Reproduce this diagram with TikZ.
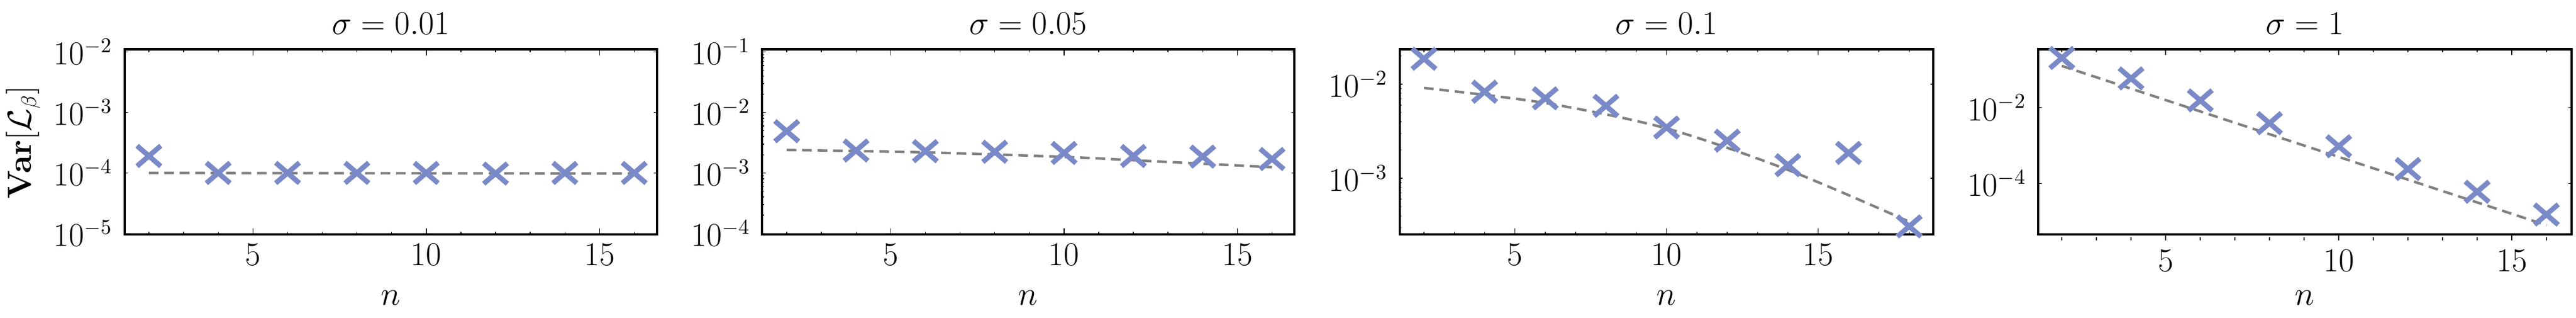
\documentclass[tikz,border=0pt]{standalone}
\usepackage{amsmath}
\usetikzlibrary{shapes.misc}
\definecolor{ptblue}{RGB}{122,138,200}
\tikzset{fr/.style  = {line width=1.3pt},
         xm/.style  = {cross out, draw=ptblue, line width=2.6pt, minimum width=3.4mm, minimum height=2.8mm, inner sep=0pt},
         fitl/.style = {gray, dashed, line width=1.3pt, dash pattern=on 5pt off 3pt},
         tl/.style  = {font=\fontsize{16}{18}\selectfont},
         ttl/.style = {font=\fontsize{19}{22}\selectfont}}
\begin{document}
\begin{tikzpicture}
  \useasboundingbox (0,0) rectangle (46.89,-5.78);
  % frames: left, right
  \foreach \l/\r/\t in {2.27/11.96/{\sigma=0.01}, 13.87/23.56/{\sigma=0.05}, 25.48/35.19/{\sigma=0.1}, 37.10/46.81/{\sigma=1}} {
    \draw[fr] (\l,-0.897) rectangle (\r,-4.261);
    \node[ttl] at ({(\l+\r)/2},-0.43) {$\t$};
    \node[tl] at ({(\l+\r)/2},-5.41) {$n$};
  }
  \node[tl, rotate=90] (ylab) at (0.42,-2.59) {$\mathbf{Var}[\mathcal{L}_\beta]$};
  % sigma = 0.01
  \begin{scope}[shift={(1.448,1.2538)}, x=0.631cm, y=1.0993cm]
    \foreach \n in {2,...,16} {\draw (\n,-5.017) -- +(0,0.055cm); \draw (\n,-1.957) -- +(0,-0.055cm);}
    \foreach \n in {5,10,15} {\draw (\n,-5.017) -- +(0,0.11cm); \draw (\n,-1.957) -- +(0,-0.11cm);
      \node[tl] at (\n,-5.017) [yshift=-0.37cm] {$\n$};}
    \foreach \e in {-2,...,-5} {\draw (1.30,\e) -- +(0.1,0); \draw (16.66,\e) -- +(-0.1,0);
      \node[tl, anchor=east] at (1.30,\e) [xshift=-1mm] {$10^{\e}$};}
    \draw[fitl] plot coordinates {(2,-4) (16,-4.01)};
    \foreach \n/\v in {2/-3.72, 4/-4.0, 6/-4.0, 8/-4.0, 10/-4.0, 12/-4.01, 14/-4.0, 16/-4.0}
      \node[xm] (a\n) at (\n,\v) {};
  \end{scope}
  % sigma = 0.05
  \begin{scope}[shift={(13.058,0.1545)}, x=0.631cm, y=1.0993cm]
    \foreach \n in {2,...,16} {\draw (\n,-4.017) -- +(0,0.055cm); \draw (\n,-0.957) -- +(0,-0.055cm);}
    \foreach \n in {5,10,15} {\draw (\n,-4.017) -- +(0,0.11cm); \draw (\n,-0.957) -- +(0,-0.11cm);
      \node[tl] at (\n,-4.017) [yshift=-0.37cm] {$\n$};}
    \foreach \e in {-1,...,-4} {\draw (1.30,\e) -- +(0.1,0); \draw (16.66,\e) -- +(-0.1,0);
      \node[tl, anchor=east] at (1.30,\e) [xshift=-1mm] {$10^{\e}$};}
    \foreach \e in {-2,...,-4} \foreach \m in {2,...,9} {
      \draw (1.30,{\e+log10(\m)}) -- +(0.05,0); \draw (16.66,{\e+log10(\m)}) -- +(-0.05,0);}
    \draw[fitl] plot[smooth] coordinates {(2,-2.62) (6,-2.66) (10,-2.735) (12,-2.79) (16,-2.905)};
    \foreach \n/\v in {2/-2.31, 4/-2.63, 6/-2.64, 8/-2.65, 10/-2.67, 12/-2.72, 14/-2.73, 16/-2.77}
      \node[xm] (b\n) at (\n,\v) {};
  \end{scope}
  % sigma = 0.1
  \begin{scope}[shift={(24.816,1.8932)}, x=0.552cm, y=1.7117cm]
    \foreach \n in {2,...,18} {\draw (\n,-3.597) -- +(0,0.055cm); \draw (\n,-1.628) -- +(0,-0.055cm);}
    \foreach \n in {5,10,15} {\draw (\n,-3.597) -- +(0,0.11cm); \draw (\n,-1.628) -- +(0,-0.11cm);
      \node[tl] at (\n,-3.597) [yshift=-0.37cm] {$\n$};}
    \foreach \e in {-2,-3} {\draw (1.2,\e) -- +(0.1,0); \draw (18.8,\e) -- +(-0.1,0);
      \node[tl, anchor=east] at (1.2,\e) [xshift=-1mm] {$10^{\e}$};}
    \foreach \e/\m in {-4/3,-4/4,-4/5,-4/6,-4/7,-4/8,-4/9,-3/2,-3/3,-3/4,-3/5,-3/6,-3/7,-3/8,-3/9,-2/2} {
      \draw (1.2,{\e+log10(\m)}) -- +(0.05,0); \draw (18.8,{\e+log10(\m)}) -- +(-0.05,0);}
    \draw[fitl] plot[smooth] coordinates {(2,-2.04) (6,-2.20) (10,-2.47) (14,-2.91) (18,-3.46)};
    \foreach \n/\v in {2/-1.73, 4/-2.08, 6/-2.15, 8/-2.23, 10/-2.46, 12/-2.60, 14/-2.86, 16/-2.73, 18/-3.51}
      \node[xm] (c\n) at (\n,\v) {};
  \end{scope}
  % sigma = 1
  \begin{scope}[shift={(36.27,-0.578)}, x=0.630cm, y=0.6891cm]
    \foreach \n in {2,...,16} {\draw (\n,-5.5) -- +(0,0.055cm); \draw (\n,-0.46) -- +(0,-0.055cm);}
    \foreach \n in {5,10,15} {\draw (\n,-5.5) -- +(0,0.11cm); \draw (\n,-0.46) -- +(0,-0.11cm);
      \node[tl] at (\n,-5.5) [yshift=-0.37cm] {$\n$};}
    \foreach \e in {-2,-4} {\draw (1.32,\e) -- +(0.1,0); \draw (16.73,\e) -- +(-0.1,0);
      \node[tl, anchor=east] at (1.32,\e) [xshift=-1mm] {$10^{\e}$};}
    \draw[fitl] (2,-0.90) -- (16,-5.10);
    \foreach \n/\v in {2/-0.69, 4/-1.23, 6/-1.81, 8/-2.41, 10/-3.02, 12/-3.62, 14/-4.22, 16/-4.82}
      \node[xm] (d\n) at (\n,\v) {};
  \end{scope}
\end{tikzpicture}
\end{document}
